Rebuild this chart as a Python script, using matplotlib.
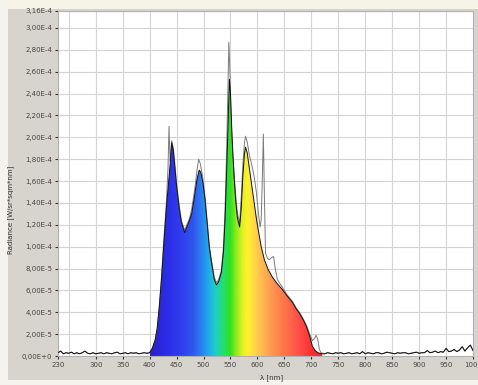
import numpy as np
import matplotlib
matplotlib.use("Agg")
import matplotlib.pyplot as plt
from matplotlib.colors import LinearSegmentedColormap, Normalize
from matplotlib.patches import Rectangle

# ---------------- data (radiance in units of 1e-5 W/sr*sqm*nm) ----------------
# low-wavelength baseline noise (230-400 nm)
wl_lo = list(range(230, 400, 5))
rad_lo = [0.3, 0.45, 0.2, 0.3, 0.25, 0.35, 0.2, 0.3, 0.2, 0.3, 0.45, 0.25, 0.2, 0.3,
          0.2, 0.25, 0.3, 0.2, 0.3, 0.25, 0.2, 0.3, 0.35, 0.2, 0.25, 0.3, 0.2, 0.3,
          0.25, 0.3, 0.2, 0.25, 0.3, 0.25]

# main spectrum, filled black curve
wl_main = [400, 405, 410, 414, 418, 422, 426, 431, 435, 438, 441, 444, 447, 450, 455,
           459, 465, 469, 474, 478, 483, 488, 492, 495, 499, 503, 507, 511, 515, 520,
           524, 528, 533, 537, 540, 543, 546, 548, 550, 553, 557, 560, 563, 567, 570,
           573, 576, 578, 581, 585, 590, 594, 598, 602, 607, 613, 620, 628, 637, 646,
           655, 665, 672, 678, 685, 691, 697, 702, 707, 712, 720]
rad_main = [0.3, 0.7, 1.4, 2.5, 4.5, 7.0, 10.0, 13.5, 15.8, 17.5, 19.5, 18.8, 17.2, 15.5,
            13.5, 12.2, 11.3, 11.8, 12.4, 13.0, 14.5, 16.2, 17.0, 16.8, 15.8, 14.2, 12.0,
            9.8, 8.5, 7.0, 6.5, 6.8, 7.6, 9.5, 12.5, 17.0, 22.0, 25.3, 24.0, 20.0, 16.1,
            14.0, 12.6, 11.8, 13.5, 16.5, 18.5, 19.1, 18.6, 17.2, 15.5, 14.0, 12.6, 11.4,
            10.0, 8.8, 7.9, 7.2, 6.6, 6.1, 5.5, 4.9, 4.3, 3.9, 3.3, 2.7, 1.8, 0.9, 0.5,
            0.3, 0.2]

# second measurement (grey line)
wl_ref = [400, 405, 410, 414, 418, 422, 426, 431, 434, 436, 438, 441, 444, 447, 450,
          455, 459, 465, 469, 474, 478, 483, 488, 491, 494, 499, 503, 507, 511, 515,
          520, 524, 528, 533, 537, 540, 543, 545, 547, 549, 551, 554, 557, 560, 563,
          567, 570, 573, 576, 578, 581, 585, 590, 594, 598, 602, 605, 607, 609, 611,
          613, 615, 619, 622, 626, 630, 633, 637, 646, 655, 665, 672, 678, 685, 691,
          697, 702, 706, 709, 712, 715, 718, 725]
rad_ref = [0.3, 0.7, 1.4, 2.5, 4.6, 7.2, 10.4, 14.0, 17.0, 21.0, 17.8, 19.7, 19.0, 17.5,
           15.8, 13.7, 12.4, 11.5, 12.0, 12.6, 13.4, 15.0, 17.0, 18.0, 17.6, 16.2, 14.5,
           12.2, 10.0, 8.7, 7.2, 6.7, 7.0, 7.8, 10.0, 13.5, 19.0, 24.0, 28.7, 26.0, 22.0,
           18.5, 16.5, 14.5, 13.0, 12.2, 14.5, 17.5, 19.5, 20.1, 19.6, 18.4, 17.4, 16.4,
           15.0, 13.0, 11.8, 12.5, 16.0, 20.3, 14.5, 9.4, 8.9, 8.8, 9.0, 9.1, 8.0, 7.0,
           6.3, 5.6, 5.0, 4.4, 4.0, 3.4, 2.8, 2.0, 1.4, 1.6, 1.9, 1.5, 0.6, 0.3, 0.2]

# high-wavelength baseline noise (725-1000 nm)
wl_hi = list(range(725, 1001, 5))
rad_hi = [0.2, 0.3, 0.25, 0.2, 0.3, 0.25, 0.3, 0.2, 0.25, 0.3, 0.2, 0.25, 0.3, 0.2,
          0.4, 0.2, 0.3, 0.25, 0.2, 0.3, 0.3, 0.2, 0.25, 0.35, 0.3, 0.25, 0.2, 0.3,
          0.25, 0.3, 0.3, 0.2, 0.25, 0.3, 0.35, 0.25, 0.3, 0.3, 0.5, 0.3, 0.35, 0.45,
          0.3, 0.4, 0.35, 0.7, 0.4, 0.45, 0.6, 0.4, 0.55, 0.85, 0.45, 0.75, 1.0, 0.5]

x_ticks = [230, 300, 350, 400, 450, 500, 550, 600, 650, 700, 750, 800, 850, 900, 950, 1000]
x_grid = [250, 300, 350, 400, 450, 500, 550, 600, 650, 700, 750, 800, 850, 900, 950]
y_ticks = [0, 2e-5, 4e-5, 6e-5, 8e-5, 1.0e-4, 1.2e-4, 1.4e-4, 1.6e-4, 1.8e-4, 2.0e-4,
           2.2e-4, 2.4e-4, 2.6e-4, 2.8e-4, 3.0e-4, 3.16e-4]
y_labels = ["0,00E+0", "2,00E-5", "4,00E-5", "6,00E-5", "8,00E-5", "1,00E-4", "1,20E-4",
            "1,40E-4", "1,60E-4", "1,80E-4", "2,00E-4", "2,20E-4", "2,40E-4", "2,60E-4",
            "2,80E-4", "3,00E-4", "3,16E-4"]

# spectrum colours along wavelength
spec_wl = [400, 430, 460, 480, 495, 510, 522, 535, 548, 560, 572, 582, 600, 625, 650, 675, 700, 720]
spec_col = ["#2a20c8", "#2c2ce8", "#3040f0", "#3058f0", "#2a80f0", "#20b0e8", "#20d0c0",
            "#20e070", "#30e020", "#90ec20", "#e8f020", "#fff030", "#ffc850", "#ff9850",
            "#ff7448", "#ff5048", "#ff3030", "#ff2020"]

# ---------------- figure ----------------
W, H = 478, 385
fig = plt.figure(figsize=(W / 100, H / 100), dpi=100, facecolor="#f4f3ee")
fig.patches.append(Rectangle((8 / W, 5 / H), (W - 8) / W, (H - 13) / H,
                             transform=fig.transFigure, facecolor="#d7d4cd",
                             edgecolor="none", zorder=-5))
fig.patches.append(Rectangle((8 / W, (H - 9) / H), (W - 8) / W, 9 / H,
                             transform=fig.transFigure, facecolor="#f6f4e6",
                             edgecolor="none", zorder=-5))

ax = fig.add_axes([58 / W, (H - 356) / H, (473 - 58) / W, (356 - 10.5) / H])
ax.set_zorder(1)
ax.set_facecolor("white")

scale = 1e-5
bx = np.array(wl_lo + wl_main + wl_hi, dtype=float)
by = np.array(rad_lo + rad_main + rad_hi) * scale
gx = np.array(wl_lo + wl_ref + wl_hi, dtype=float)
gy = np.array(rad_lo + rad_ref + rad_hi) * scale

mx = np.array(wl_main, dtype=float)
my = np.array(rad_main) * scale

for g in x_grid:
    ax.axvline(g, color="#d4d4d4", lw=0.8, zorder=0)
for t in y_ticks[1:-1]:
    ax.axhline(t, color="#d4d4d4", lw=0.8, zorder=0)

# gradient fill under main curve
cmap = LinearSegmentedColormap.from_list(
    "spec", [((w - spec_wl[0]) / (spec_wl[-1] - spec_wl[0]), c) for w, c in zip(spec_wl, spec_col)])
poly = ax.fill_between(mx, 0, my, color="none", lw=0)
grad = np.linspace(spec_wl[0], spec_wl[-1], 400).reshape(1, -1)
im = ax.imshow(grad, extent=[spec_wl[0], spec_wl[-1], 0, 3.16e-4], aspect="auto",
               cmap=cmap, norm=Normalize(spec_wl[0], spec_wl[-1]), zorder=1,
               interpolation="bilinear")
im.set_clip_path(poly.get_paths()[0], transform=ax.transData)

ax.plot(gx, gy, color="#7a7a7a", lw=0.7, zorder=2)
ax.plot(bx, by, color="#111111", lw=0.7, zorder=3)

ax.set_xlim(230, 1000)
ax.set_ylim(0, 3.16e-4)
ax.set_xticks(x_ticks)
ax.set_xticklabels([str(t) for t in x_ticks])
ax.set_yticks(y_ticks)
ax.set_yticklabels(y_labels)
ax.tick_params(axis="both", direction="out", length=2.5, width=0.8, colors="#333333",
               labelsize=5, pad=1.5)
for lab in ax.get_xticklabels() + ax.get_yticklabels():
    lab.set_color("#444444")
for s in ax.spines.values():
    s.set_color("#b0b0b0")
    s.set_linewidth(0.8)

fig.text(272 / W, 1 - 378 / H, "λ [nm]", ha="center", va="center", fontsize=5, color="#333333")
fig.text(11 / W, 1 - 210 / H, "Radiance [W/sr*sqm*nm]", ha="center", va="center",
         rotation=90, fontsize=5, color="#333333")

fig.savefig("out.png", dpi=100, facecolor=fig.get_facecolor())
